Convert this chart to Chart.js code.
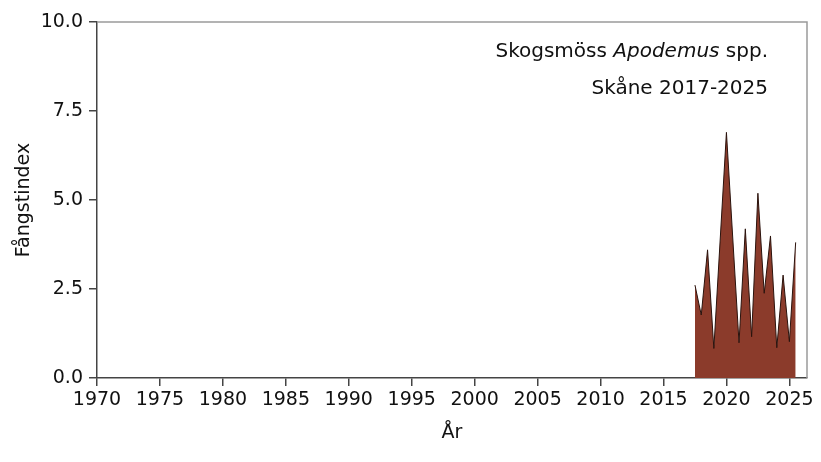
<!DOCTYPE html>
<html lang="sv">
<head>
    <meta charset="UTF-8">
    <title>Skogsmöss Skåne</title>
    <script src="https://cdn.jsdelivr.net/npm/chart.js@4.4.0/dist/chart.umd.min.js"></script>
    <style>
        body {
            margin: 0;
            padding: 0;
            background: #fff;
        }
        .wrap {
            width: 821px;
            height: 462px;
        }
    </style>
</head>
<body>
    <div class="wrap">
        <canvas id="chart" width="821" height="462"></canvas>
    </div>

<script>
// halvårsvärden (vår/höst), läst från figuren
const years = [2017.5, 2018, 2018.5, 2019, 2020, 2021, 2021.5, 2022, 2022.5, 2023, 2023.5, 2024, 2024.5, 2025, 2025.5];
const index = [2.61, 1.77, 3.6, 0.83, 6.9, 0.99, 4.19, 1.16, 5.19, 2.38, 3.99, 0.85, 2.89, 1.02, 3.81];

const xTicks = [1970, 1975, 1980, 1985, 1990, 1995, 2000, 2005, 2010, 2015, 2020, 2025];
const yTicks = [0, 2.5, 5, 7.5, 10];

const titleLine1 = ['Skogsmöss ', 'Apodemus', ' spp.'];
const titleLine2 = 'Skåne 2017-2025';

const FONT = "'DejaVu Sans', sans-serif";

// ram runt plotytan + texten uppe till höger
const frame = {
    id: 'frame',
    afterDraw(chart) {
        const { ctx, chartArea: a } = chart;
        ctx.save();
        ctx.strokeStyle = '#9a9a9a';
        ctx.lineWidth = 1.5;
        ctx.beginPath();
        ctx.moveTo(a.left, a.top);
        ctx.lineTo(a.right, a.top);
        ctx.lineTo(a.right, a.bottom);
        ctx.stroke();

        ctx.fillStyle = '#111';
        ctx.textBaseline = 'alphabetic';
        const right = 768;
        // rad 1, med kursivt släktnamn
        const fonts = ['20px ' + FONT, 'italic 20px ' + FONT, '20px ' + FONT];
        let widths = titleLine1.map((t, i) => { ctx.font = fonts[i]; return ctx.measureText(t).width; });
        let x = right - widths.reduce((s, w) => s + w, 0);
        titleLine1.forEach((t, i) => {
            ctx.font = fonts[i];
            ctx.textAlign = 'left';
            ctx.fillText(t, x, 57);
            x += widths[i];
        });
        ctx.font = '20px ' + FONT;
        ctx.textAlign = 'right';
        ctx.fillText(titleLine2, right, 94);
        ctx.restore();
    }
};

const ctx = document.getElementById('chart').getContext('2d');
new Chart(ctx, {
    type: 'line',
    data: {
        datasets: [{
            data: years.map((y, i) => ({ x: y, y: index[i] })),
            borderColor: '#2a120c',
            borderWidth: 1,
            backgroundColor: '#8b3b2b',
            fill: 'origin',
            pointRadius: 0,
            tension: 0
        }]
    },
    options: {
        responsive: false,
        animation: false,
        events: [],
        layout: { padding: { left: 0, right: 14, top: 22, bottom: 0 } },
        plugins: {
            legend: { display: false },
            tooltip: { enabled: false }
        },
        scales: {
            x: {
                type: 'linear',
                min: 1970,
                max: 2026.4,
                afterBuildTicks: s => { s.ticks = xTicks.map(v => ({ value: v })); },
                afterFit: s => { s.height = 84; },
                grid: { drawOnChartArea: false, drawTicks: true, tickLength: 8, color: '#444', lineWidth: 1.5 },
                border: { color: '#444', width: 1.5 },
                ticks: {
                    color: '#111',
                    font: { family: FONT, size: 19 },
                    padding: 3,
                    maxRotation: 0,
                    autoSkip: false,
                    callback: v => String(v)
                },
                title: {
                    display: true,
                    text: 'År',
                    color: '#111',
                    font: { family: FONT, size: 19 },
                    padding: { top: 0, bottom: 18 }
                }
            },
            y: {
                min: 0,
                max: 10,
                afterBuildTicks: s => { s.ticks = yTicks.map(v => ({ value: v })); },
                afterFit: s => { s.width = 97; },
                grid: { drawOnChartArea: false, drawTicks: true, tickLength: 8, color: '#444', lineWidth: 1.5 },
                border: { color: '#444', width: 1.5 },
                ticks: {
                    color: '#111',
                    font: { family: FONT, size: 19 },
                    padding: 6,
                    callback: v => Number(v).toFixed(1)
                },
                title: {
                    display: true,
                    text: 'Fångstindex',
                    color: '#111',
                    font: { family: FONT, size: 19 },
                    padding: { top: 13, bottom: 0 }
                }
            }
        }
    },
    plugins: [frame]
});
</script>
</body>
</html>
